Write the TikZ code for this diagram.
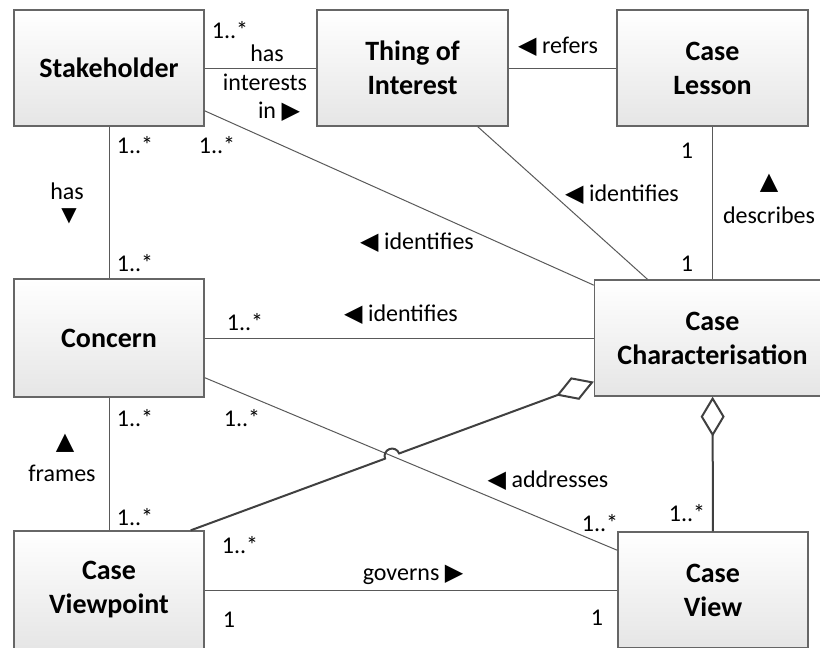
\documentclass[tikz,border=0pt]{standalone}
\usepackage{fontspec}
\setmainfont{Carlito}
\newfontfamily\symfont{DejaVu Sans}
\usetikzlibrary{positioning,calc,arrows.meta,intersections}

\newcommand{\triL}{{\symfont ◀}}
\newcommand{\triR}{{\symfont ▶}}
\newcommand{\triU}{{\symfont ▲}}
\newcommand{\triD}{{\symfont ▼}}

\tikzset{
  cls/.style={draw=black!60, line width=1.3pt, top color=white, bottom color=black!10,
    minimum width=190pt, minimum height=116pt, align=center,
    font=\fontsize{28}{34}\selectfont\bfseries},
  assoc/.style={draw=black!65, line width=1pt},
  aggr/.style={draw=black!75, line width=2pt},
  lbl/.style={font=\fontsize{24}{28}\selectfont, inner sep=0pt},
  agtip/.style={{Diamond[length=40pt,width=24pt,fill=white,line width=2pt]}-}
}

\begin{document}
\begin{tikzpicture}[x=1pt,y=-1pt]
    \path[use as bounding box, clip] (0,0) rectangle (820,648);

    % classes
    \node[cls] (stk) at (109,68) {Stakeholder};
    \node[cls, minimum width=191pt] (toi) at (412.5,68) {Thing of\\Interest};
    \node[cls, minimum width=191pt] (les) at (712.5,68) {Case\\Lesson};
    \node[cls, minimum height=118pt] (con) at (109,338) {Concern};
    \node[cls, minimum width=236pt] (chr) at (712.5,338) {Case\\Characterisation};
    \node[cls, minimum height=118pt] (vpt) at (109,590) {Case\\Viewpoint};
    \node[cls] (vw) at (713,590) {Case\\View};

    % associations
    \draw[assoc] (stk) -- (toi);
    \draw[assoc] (toi) -- (les);
    \draw[assoc] (stk) -- (con);
    \draw[assoc] (stk) -- (chr);
    \draw[assoc] (toi) -- (chr);
    \draw[assoc] (les) -- (chr);
    \draw[assoc] (con) -- (chr);
    \draw[assoc] (con) -- (vpt);
    \draw[assoc] (vpt) -- (vw);
    \draw[assoc, name path=addr] (con) -- (vw);

    % aggregations
    \draw[aggr, agtip] (chr) -- (vw);
    \coordinate (vpA) at ([xshift=-14pt]vpt.north east);
    \coordinate (vpB) at ([yshift=15pt]chr.south west);
    \path[name path=agg] (vpA) -- (vpB);
    \path[name intersections={of=addr and agg, by=hop}];
    \draw[aggr, -{Diamond[length=40pt,width=24pt,fill=white,line width=2pt]}]
      (vpA) -- ($(hop)!7.5pt!(vpA)$)
      let \p1=($(vpB)-(vpA)$), \n1={atan2(\y1,\x1)} in
      arc[start angle=\n1+180, end angle=\n1, radius=7.5pt] -- (vpB);

    % labels
    \node[lbl] (m1) at (230,30) {1..*};
    \node[lbl] (r1a) at (267,53) {has};
    \node[lbl] (r1b) at (265,82) {interests};
    \node[lbl] (r1c) at (279,112) {in \triR};
    \node[lbl] (r2) at (558,47) {\triL\ refers};
    \node[lbl] (m2) at (135,145) {1..*};
    \node[lbl] (m3) at (217,145) {1..*};
    \node[lbl] (r3a) at (67,191) {has};
    \node[lbl, font=\fontsize{20}{24}\selectfont] (r3b) at (69,216) {\triD};
    \node[lbl] (r4) at (417,243) {\triL\ identifies};
    \node[lbl] (r5) at (622,195) {\triL\ identifies};
    \node[lbl] (m4) at (687,151) {1};
    \node[lbl] (r6a) at (769,183) {\triU};
    \node[lbl] (r6b) at (769,215) {describes};
    \node[lbl] (m5) at (687,264) {1};
    \node[lbl] (m6) at (135,263) {1..*};
    \node[lbl] (m7) at (245,322) {1..*};
    \node[lbl] (r7) at (401,315) {\triL\ identifies};
    \node[lbl] (m8) at (135,418) {1..*};
    \node[lbl] (m9) at (242,418) {1..*};
    \node[lbl] (r8a) at (65,443) {\triU};
    \node[lbl] (r8b) at (62,473) {frames};
    \node[lbl] (m10) at (135,517) {1..*};
    \node[lbl] (m11) at (240,545) {1..*};
    \node[lbl] (r9) at (548,481) {\triL\ addresses};
    \node[lbl] (m12) at (600,523) {1..*};
    \node[lbl] (m13) at (687,513) {1..*};
    \node[lbl] (r10) at (413,575) {governs \triR};
    \node[lbl] (m14) at (229,620) {1};
    \node[lbl] (m15) at (597,618) {1};
\end{tikzpicture}
\end{document}
